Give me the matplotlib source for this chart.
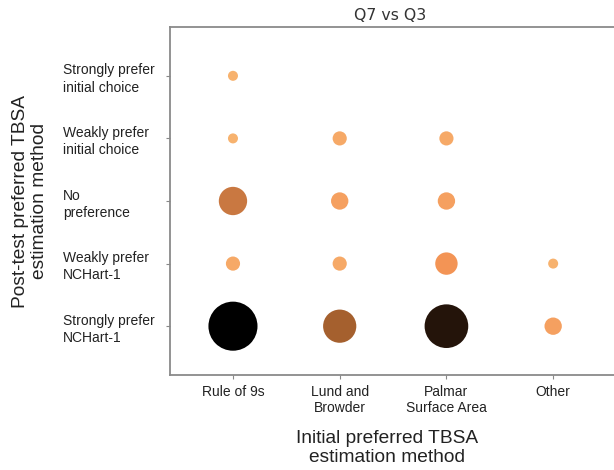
import matplotlib
matplotlib.use("Agg")
import matplotlib.pyplot as plt
from matplotlib.colors import LinearSegmentedColormap, Normalize
import numpy as np

# Data
initial_methods = ["Rule of 9s", "Lund and\nBrowder", "Palmar\nSurface Area", "Other"]
post_prefs = ["Strongly prefer\nNCHart-1", "Weakly prefer\nNCHart-1", "No\npreference",
              "Weakly prefer\ninitial choice", "Strongly prefer\ninitial choice"]
# counts[row = post_pref][col = initial_method]
counts_strong_nchart = [24, 11, 19, 3]
counts_weak_nchart = [2, 2, 5, 1]
counts_no_pref = [8, 3, 3, 0]
counts_weak_initial = [1, 2, 2, 0]
counts_strong_initial = [1, 0, 0, 0]

counts = np.array([counts_strong_nchart, counts_weak_nchart, counts_no_pref,
                   counts_weak_initial, counts_strong_initial])

plt.rcParams['font.family'] = ['Liberation Sans', 'DejaVu Sans']

fig = plt.figure(figsize=(6.14, 4.70), dpi=100)
ax = fig.add_axes([170/614, 1-375/470, 1-170/614, (375-27)/470])

cmap = LinearSegmentedColormap.from_list("bub", [
    (0.0, "#F7B26E"),
    (0.087, "#F5A060"),
    (0.174, "#F39455"),
    (0.304, "#C87841"),
    (0.435, "#A5602E"),
    (0.783, "#24140A"),
    (1.0, "#000000"),
])
norm = Normalize(vmin=1, vmax=24)

xs, ys, cs = [], [], []
for r in range(counts.shape[0]):
    for c in range(counts.shape[1]):
        if counts[r, c] > 0:
            xs.append(c); ys.append(r); cs.append(counts[r, c])
cs = np.array(cs)
ax.scatter(xs, ys, s=52*cs, c=cs, cmap=cmap, norm=norm, edgecolors='none', zorder=3)

ax.set_xlim(-0.59, 3.57)
ax.set_ylim(-0.78, 4.78)
ax.set_xticks(range(len(initial_methods)))
ax.set_xticklabels(initial_methods, fontsize=10, color='#222222')
ax.set_yticks(range(len(post_prefs)))
ax.set_yticklabels(post_prefs, fontsize=10, color='#222222', ha='left', linespacing=1.3)
ax.tick_params(axis='y', length=3, width=0.8, color='#888888', pad=74)
ax.tick_params(axis='x', length=3, width=0.8, color='#888888', pad=4)
for sp in ['left', 'bottom', 'top']:
    ax.spines[sp].set_color('#8a8a8a')
    ax.spines[sp].set_linewidth(1.3)
ax.spines['right'].set_visible(False)

fig.text(390/614, 1-15/470, "Q7 vs Q3", ha='center', va='center', fontsize=11.3,
         family='DejaVu Sans', color='#333333')
fig.text(387/614, 1-448/470, "Initial preferred TBSA\nestimation method", ha='center',
         va='center', fontsize=13.8, color='#222222', linespacing=1.15)
fig.text(30/614, 1-201/470, "Post-test preferred TBSA\nestimation method", ha='center',
         va='center', rotation=90, fontsize=13.8, color='#222222', linespacing=1.15)

fig.savefig("out.png", dpi=100)
